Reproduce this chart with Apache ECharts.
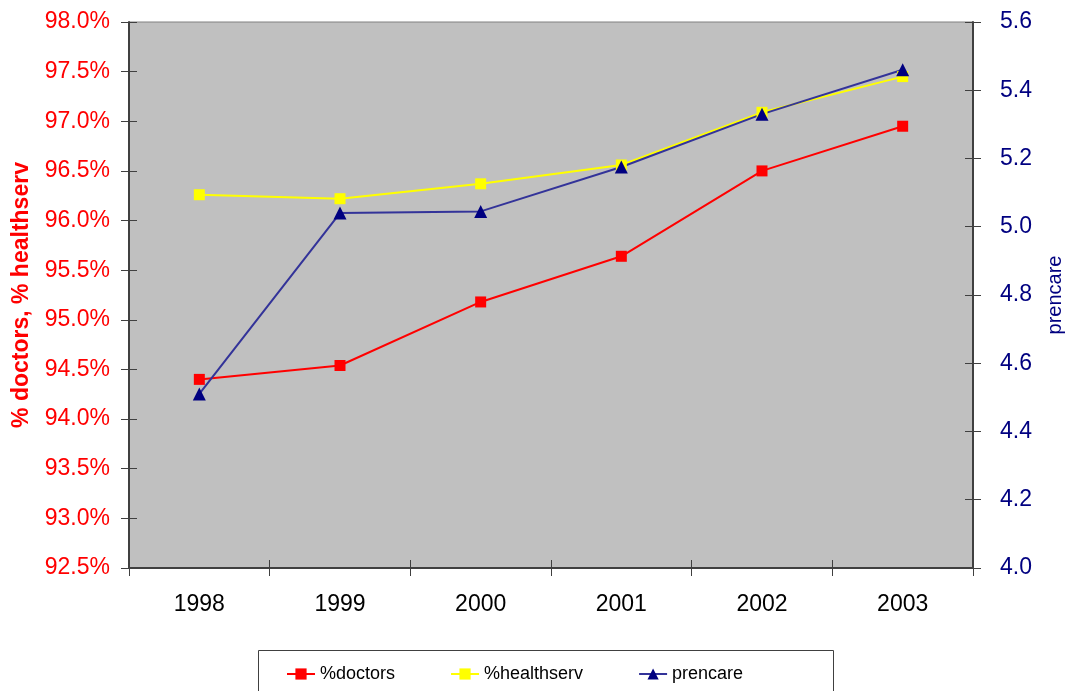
<!DOCTYPE html>
<html>
<head>
<meta charset="utf-8">
<script src="https://cdn.jsdelivr.net/npm/echarts@6/dist/echarts.min.js"></script>
<style>
  html, body { margin: 0; padding: 0; background: #fff; }
  #chart { width: 1066px; height: 691px; }
</style>
</head>
<body>
<div id="chart"></div>
<script>
// Yearly indicators: share with doctors / health services (left, %) and prenatal care (right)
const years = ['1998', '1999', '2000', '2001', '2002', '2003'];
const pctDoctors = [94.40, 94.54, 95.18, 95.64, 96.50, 96.95];
const pctHealthserv = [96.26, 96.22, 96.37, 96.56, 97.09, 97.45];
const prencare = [4.51, 5.04, 5.045, 5.175, 5.33, 5.46];

const FONT = 'Liberation Sans, Arial, sans-serif';
const AXIS_COLOR = '#404040';

const gridBox = { left: 129, right: 93, top: 22, height: 546, outerBoundsMode: 'none', containLabel: false };

const leftScale = { min: 92.5, max: 98, interval: 0.5 };
const rightScale = { min: 4.0, max: 5.6, interval: 0.2 };

const chart = echarts.init(document.getElementById('chart'), null, { renderer: 'canvas' });

const noLabels = { show: false };
const noSplit = { show: false };

chart.setOption({
  animation: false,
  backgroundColor: '#ffffff',
  grid: [
    Object.assign({ show: true, backgroundColor: '#c0c0c0', borderColor: '#808080', borderWidth: 1 }, gridBox),
    Object.assign({ show: false }, gridBox)
  ],
  xAxis: [
    {
      type: 'category', gridIndex: 0, data: years, boundaryGap: true,
      axisLine: { lineStyle: { color: AXIS_COLOR, width: 2 } },
      axisTick: { show: true, length: 8, lineStyle: { color: AXIS_COLOR, width: 1 } },
      axisLabel: { color: '#000', fontFamily: FONT, fontSize: 23, margin: 25 },
      splitLine: noSplit
    },
    {
      // inner half of the crossing tick marks
      type: 'category', gridIndex: 1, data: years, boundaryGap: true,
      axisLine: { show: false },
      axisTick: { show: true, inside: true, length: 8, lineStyle: { color: AXIS_COLOR, width: 1 } },
      axisLabel: noLabels, splitLine: noSplit
    }
  ],
  yAxis: [
    Object.assign({
      type: 'value', gridIndex: 0, position: 'left',
      name: '% doctors, % healthserv', nameLocation: 'middle', nameGap: 96,
      nameTextStyle: { color: '#ff0000', fontFamily: FONT, fontSize: 23, fontWeight: 'bold' },
      axisLine: { show: true, lineStyle: { color: AXIS_COLOR, width: 2 } },
      axisTick: { show: true, length: 8, lineStyle: { color: AXIS_COLOR, width: 1 } },
      axisLabel: { color: '#ff0000', fontFamily: FONT, fontSize: 23, margin: 19,
        formatter: v => v.toFixed(1) + '%' },
      splitLine: noSplit
    }, leftScale),
    Object.assign({
      type: 'value', gridIndex: 0, position: 'right',
      name: 'prencare', nameLocation: 'middle', nameGap: 72,
      nameTextStyle: { color: '#000080', fontFamily: FONT, fontSize: 20 },
      axisLine: { show: true, lineStyle: { color: AXIS_COLOR, width: 2 } },
      axisTick: { show: true, length: 8, lineStyle: { color: AXIS_COLOR, width: 1 } },
      axisLabel: { color: '#000080', fontFamily: FONT, fontSize: 23, margin: 27,
        formatter: v => v.toFixed(1) },
      splitLine: noSplit
    }, rightScale),
    Object.assign({
      type: 'value', gridIndex: 1, position: 'left',
      axisLine: { show: false },
      axisTick: { show: true, inside: true, length: 8, lineStyle: { color: AXIS_COLOR, width: 1 } },
      axisLabel: noLabels, splitLine: noSplit
    }, leftScale),
    Object.assign({
      type: 'value', gridIndex: 1, position: 'right',
      axisLine: { show: false },
      axisTick: { show: true, inside: true, length: 8, lineStyle: { color: AXIS_COLOR, width: 1 } },
      axisLabel: noLabels, splitLine: noSplit
    }, rightScale)
  ],
  legend: {
    left: 286, top: 665, padding: 0,
    itemWidth: 28, itemHeight: 14, itemGap: 55,
    textStyle: { color: '#000', fontFamily: FONT, fontSize: 18 },
    data: ['%doctors', '%healthserv', 'prencare']
  },
  graphic: [
    {
      type: 'rect', left: 258, top: 650, silent: true,
      shape: { width: 575, height: 60 },
      style: { fill: '#ffffff', stroke: '#404040', lineWidth: 1 },
      z: -1
    }
  ],
  series: [
    {
      name: '%doctors', type: 'line', xAxisIndex: 0, yAxisIndex: 0, data: pctDoctors,
      symbol: 'rect', symbolSize: 11,
      lineStyle: { color: '#ff0000', width: 2 },
      itemStyle: { color: '#ff0000' }
    },
    {
      name: '%healthserv', type: 'line', xAxisIndex: 0, yAxisIndex: 0, data: pctHealthserv,
      symbol: 'rect', symbolSize: 11,
      lineStyle: { color: '#ffff00', width: 2 },
      itemStyle: { color: '#ffff00' }
    },
    {
      name: 'prencare', type: 'line', xAxisIndex: 0, yAxisIndex: 1, data: prencare,
      symbol: 'triangle', symbolSize: 13,
      lineStyle: { color: '#333399', width: 2 },
      itemStyle: { color: '#000080' }
    }
  ]
});
</script>
</body>
</html>
